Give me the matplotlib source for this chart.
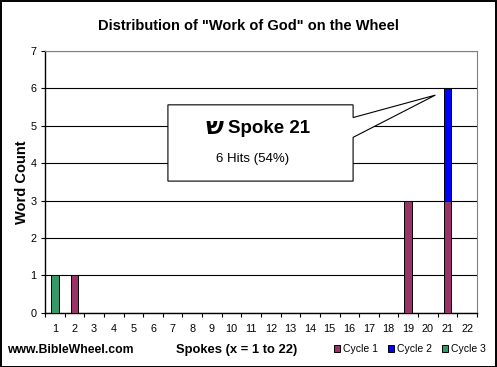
import numpy as np
import matplotlib
matplotlib.use("Agg")
import matplotlib.pyplot as plt
from matplotlib.patches import Polygon, Rectangle

plt.rcParams['font.family'] = ['Liberation Sans', 'DejaVu Sans']

# Data: word count per spoke, split by cycle
spokes = np.arange(1, 23)
cycle1 = [0, 1, 0, 0, 0, 0, 0, 0, 0, 0, 0, 0, 0, 0, 0, 0, 0, 0, 3, 0, 3, 0]
cycle2 = [0, 0, 0, 0, 0, 0, 0, 0, 0, 0, 0, 0, 0, 0, 0, 0, 0, 0, 0, 0, 3, 0]
cycle3 = [1, 0, 0, 0, 0, 0, 0, 0, 0, 0, 0, 0, 0, 0, 0, 0, 0, 0, 0, 0, 0, 0]
series_names = ['Cycle 1', 'Cycle 2', 'Cycle 3']
colors = ['#993366', '#0000FF', '#339966']

W, H = 497, 367
fig = plt.figure(figsize=(W / 100, H / 100), dpi=100)
fig.patch.set_facecolor('white')
fig.add_artist(Rectangle((0.5 / W, 0.5 / H), (W - 1.5) / W, (H - 1.5) / H,
                         transform=fig.transFigure, fill=False, edgecolor='black', lw=1.4))

left, right, top, bottom = 45, 477, 51, 312.7
ax = fig.add_axes([left / W, (H - bottom) / H, (right - left) / W, (bottom - top) / H])

c1 = np.array(cycle1)
c2 = np.array(cycle2)
c3 = np.array(cycle3)
bw = 0.4
h1 = ax.bar(spokes, c1, bw, color=colors[0], edgecolor='black', lw=0.7, zorder=3)
h2 = ax.bar(spokes, c2, bw, bottom=c1, color=colors[1], edgecolor='black', lw=0.7, zorder=3)
h3 = ax.bar(spokes, c3, bw, bottom=c1 + c2, color=colors[2], edgecolor='black', lw=0.7, zorder=3)
for bars in (h1, h2, h3):
    for b in bars:
        if b.get_height() == 0:
            b.set_visible(False)

ax.set_xlim(0.5, 22.5)
ax.set_ylim(0, 7)
ax.set_yticks(range(0, 8))
ax.yaxis.grid(True, color='black', lw=0.8, zorder=1)
ax.set_axisbelow(True)

ax.set_xticks(np.arange(0.5, 23, 1))
ax.set_xticklabels([])
ax.set_xticks(spokes, minor=True)
ax.set_xticklabels([str(s) for s in spokes], minor=True, fontsize=7.8)
ax.tick_params(axis='x', which='major', length=3, width=0.8, direction='out')
ax.tick_params(axis='x', which='minor', length=0, pad=8)
ax.tick_params(axis='y', length=3, width=0.8, labelsize=7.8, pad=3)

for s in ('top', 'right'):
    ax.spines[s].set_color('#808080')
for s in ('left', 'bottom'):
    ax.spines[s].set_color('black')
    ax.spines[s].set_linewidth(1.0)

ax.set_ylabel('Word Count', fontsize=10.5, fontweight='bold', labelpad=1)

# Callout for spoke 21
bx0, bx1, by0, by1 = 6.76, 16.19, 3.52, 5.56
tip = (20.38, 5.82)
callout = Polygon([(bx0, by0), (bx1, by0), (bx1, 4.69), tip, (bx1, 5.22),
                   (bx1, by1), (bx0, by1)], closed=True, facecolor='white',
                  edgecolor='black', lw=0.8, zorder=5)
ax.add_patch(callout)
ax.text(9.15, 4.98, '\u05e9', fontsize=17, fontweight='bold', ha='center', va='center',
        zorder=6, family=['DejaVu Sans'])
ax.text(11.9, 4.92, 'Spoke 21', fontsize=13.5, fontweight='bold', ha='center', va='center', zorder=6)
ax.text(11.05, 4.11, '6 Hits (54%)', fontsize=9.5, ha='center', va='center', zorder=6)

fig.text(248 / W, 1 - 26 / H, 'Distribution of "Work of God" on the Wheel',
         fontsize=10.5, fontweight='bold', ha='center', va='center')
fig.text(7 / W, 17 / H, 'www.BibleWheel.com', fontsize=8.8, fontweight='bold', ha='left', va='center')
fig.text(237 / W, 17 / H, 'Spokes (x = 1 to 22)', fontsize=9.4, fontweight='bold', ha='center', va='center')

handles = [Rectangle((0, 0), 1, 1, facecolor=c, edgecolor='black', lw=0.7) for c in colors]
fig.legend(handles, series_names, loc='center right', bbox_to_anchor=(490 / W, 18 / H),
           ncol=3, frameon=False, fontsize=7.5, handlelength=0.6, handleheight=0.6,
           handletextpad=0.3, columnspacing=0.9, borderaxespad=0)

fig.savefig('out.png', dpi=100)
